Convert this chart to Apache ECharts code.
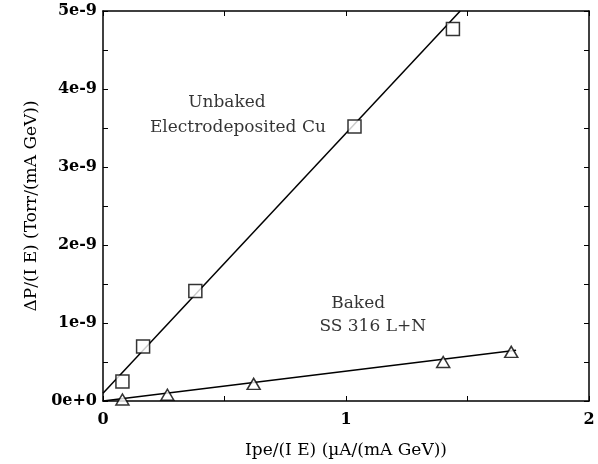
<!DOCTYPE html>
<html>
<head>
<meta charset="utf-8">
<script src="https://cdn.jsdelivr.net/npm/echarts@6/dist/echarts.min.js"></script>
<style>html,body{margin:0;padding:0;background:#fff}#c{width:598px;height:464px}</style>
</head>
<body>
<div id="c"></div>
<script>
// Data
var cuX = [0.08, 0.165, 0.38, 1.035, 1.44];
var cuY = [0.25e-9, 0.70e-9, 1.41e-9, 3.52e-9, 4.77e-9];
var cuFitX = [0, 1.47];
var cuFitY = [0.10e-9, 5.0e-9];
var ssX = [0.08, 0.265, 0.62, 1.40, 1.68];
var ssY = [0.02e-9, 0.08e-9, 0.22e-9, 0.50e-9, 0.63e-9];
var ssFitX = [0, 1.70];
var ssFitY = [0.0, 0.65e-9];
var yTickLabels = ['0e+0', '1e-9', '2e-9', '3e-9', '4e-9', '5e-9'];
var notes = [
  {x: 0.51, y: 3.82e-9, t: 'Unbaked'},
  {x: 0.555, y: 3.50e-9, t: 'Electrodeposited Cu'},
  {x: 1.05, y: 1.255e-9, t: 'Baked'},
  {x: 1.11, y: 0.95e-9, t: 'SS 316 L+N'}
];

function pairs(xs, ys) { return xs.map(function (x, i) { return [x, ys[i]]; }); }

var FONT = 'DejaVu Serif';
var axisLine = {show: true, onZero: false, lineStyle: {color: '#000', width: 1.5}};
var tick = {show: true, inside: true, length: 5, lineStyle: {color: '#000', width: 1}};
var minor = {show: true, splitNumber: 2, length: 5, lineStyle: {color: '#000', width: 1}};
var chart = echarts.init(document.getElementById('c'));
chart.setOption({
  backgroundColor: '#fff',
  animation: false,
  grid: {left: 103, right: 9, top: 11, bottom: 63},
  xAxis: [{
    type: 'value', min: 0, max: 2, interval: 1,
    axisLine: axisLine, axisTick: tick, minorTick: minor,
    splitLine: {show: false},
    axisLabel: {color: '#000', fontFamily: FONT, fontWeight: 'bold', fontSize: 16, margin: 11},
    name: 'Ipe/(I E) (\u00b5A/(mA GeV))', nameLocation: 'middle', nameGap: 41,
    nameTextStyle: {color: '#000', fontFamily: FONT, fontSize: 17}
  }, {
    type: 'value', position: 'top', min: 0, max: 2, interval: 1,
    axisLine: axisLine, axisTick: tick, minorTick: minor,
    splitLine: {show: false}, axisLabel: {show: false}
  }],
  yAxis: [{
    type: 'value', min: 0, max: 5e-9, interval: 1e-9,
    axisLine: axisLine, axisTick: tick, minorTick: minor,
    splitLine: {show: false},
    axisLabel: {color: '#000', fontFamily: FONT, fontWeight: 'bold', fontSize: 16, margin: 6,
      formatter: function (v) { return yTickLabels[Math.round(v / 1e-9)]; }},
    name: '\u0394P/(I E) (Torr/(mA GeV))', nameLocation: 'middle', nameGap: 62, nameRotate: 90,
    nameTextStyle: {color: '#000', fontFamily: FONT, fontSize: 17}
  }, {
    type: 'value', position: 'right', min: 0, max: 5e-9, interval: 1e-9,
    axisLine: axisLine, axisTick: tick, minorTick: minor,
    splitLine: {show: false}, axisLabel: {show: false}
  }],
  series: [
    {type: 'line', data: pairs(cuFitX, cuFitY), symbol: 'none', lineStyle: {color: '#000', width: 1.5}, z: 2},
    {type: 'line', data: pairs(ssFitX, ssFitY), symbol: 'none', lineStyle: {color: '#000', width: 1.5}, z: 2},
    {type: 'scatter', data: pairs(cuX, cuY), symbol: 'rect', symbolSize: 13,
      itemStyle: {color: '#fff', borderColor: '#000', borderWidth: 1.5}, z: 3},
    {type: 'scatter', data: pairs(ssX, ssY), symbol: 'triangle', symbolSize: [13, 11],
      itemStyle: {color: '#fff', borderColor: '#000', borderWidth: 1.5}, z: 3},
    {type: 'scatter', symbolSize: 0, silent: true,
      data: notes.map(function (n) { return {value: [n.x, n.y], label: {formatter: n.t}}; }),
      label: {show: true, position: 'inside', color: '#000', fontFamily: FONT, fontSize: 17}}
  ]
});
</script>
</body>
</html>
